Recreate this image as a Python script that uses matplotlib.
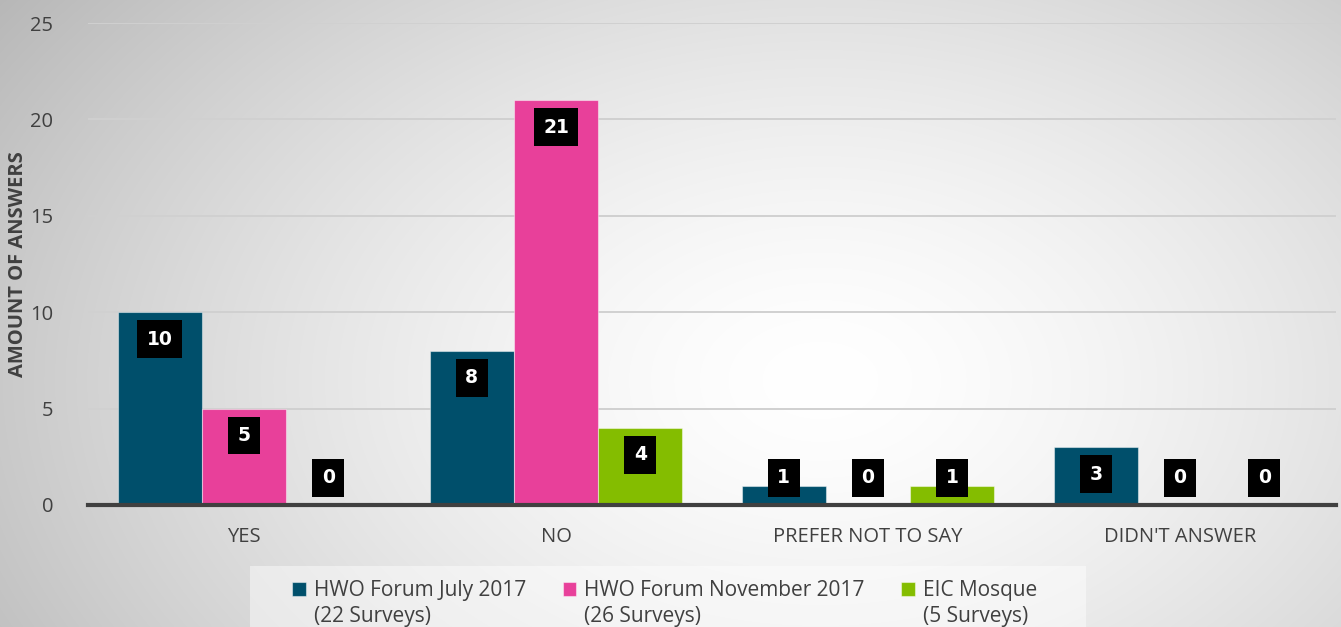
import matplotlib
matplotlib.use('Agg')
import matplotlib.pyplot as plt
from matplotlib.patches import Rectangle
import numpy as np

categories = ['YES', 'NO', 'PREFER NOT TO SAY', "DIDN'T ANSWER"]
july_2017 = [10, 8, 1, 3]
nov_2017 = [5, 21, 0, 0]
eic_mosque = [0, 4, 1, 0]
series_names = ['HWO Forum July 2017', 'HWO Forum November 2017', 'EIC Mosque']
series_notes = ['(22 Surveys)', '(26 Surveys)', '(5 Surveys)']
series_colors = ['#004f6b', '#e8409a', '#84bd00']
y_ticks = [0, 5, 10, 15, 20, 25]

plt.rcParams['font.family'] = ['Open Sans', 'DejaVu Sans']


def background(fig):
    # soft radial grey gradient behind everything
    bg = fig.add_axes([0, 0, 1, 1], zorder=0)
    bg.set_axis_off()
    h, w = 627, 1341
    yy, xx = np.mgrid[0:h, 0:w]
    r = np.hypot((xx - 820) / 900, (yy - 380) / 600)
    shade = np.clip(1.0 - 0.24 * r ** 1.5, 0, 1)
    img = np.dstack([shade, shade, shade])
    bg.imshow(img, aspect='auto', extent=[0, 1, 0, 1], origin='upper')
    bg.set_xlim(0, 1)
    bg.set_ylim(0, 1)


def make_plot():
    fig = plt.figure(figsize=(13.41, 6.27), dpi=100)
    background(fig)

    ax = fig.add_axes([0.0656, 0.1946, 0.9307, 0.7687], zorder=1)
    ax.patch.set_alpha(0)

    x = np.arange(len(categories))
    width = 0.27
    all_series = [july_2017, nov_2017, eic_mosque]
    for i, vals in enumerate(all_series):
        pos = x + (i - 1) * width
        ax.bar(pos, vals, width, color=series_colors[i],
               edgecolor=(1, 1, 1, 0.45), linewidth=0.8, zorder=2,
               label=series_names[i])
        for px, v in zip(pos, vals):
            ly = max(v - 1.4, 1.4)
            ax.text(px, ly, str(v), ha='center', va='center', color='white',
                    fontsize=13.5, fontweight='bold', family='DejaVu Sans',
                    zorder=4,
                    bbox=dict(boxstyle='square,pad=0.5', fc='black', ec='none'))

    ax.set_xlim(-0.5, 3.5)
    ax.set_ylim(0, 25)
    ax.set_yticks(y_ticks)
    ax.set_xticks(x)
    ax.set_xticklabels(categories)
    ax.tick_params(axis='both', length=0, labelsize=14.5, colors='#404040')
    ax.tick_params(axis='y', pad=25)
    ax.tick_params(axis='x', pad=16)
    ax.yaxis.grid(True, color='#d0d0d0', linewidth=1.4, zorder=0)
    ax.set_axisbelow(True)
    for s in ['top', 'right', 'left']:
        ax.spines[s].set_visible(False)
    ax.spines['bottom'].set_color('#404040')
    ax.spines['bottom'].set_linewidth(3)
    ax.spines['bottom'].set_zorder(3)

    fig.text(0.0137, 0.578, 'AMOUNT OF ANSWERS', rotation=90, ha='center',
             va='center', fontsize=14.5, fontweight='bold', color='#404040')

    # legend panel
    fig.patches.append(Rectangle((250 / 1341, 0), (1086 - 250) / 1341, 61 / 627,
                                 transform=fig.transFigure, fc='white',
                                 ec='none', alpha=0.45, zorder=1))
    leg = fig.legend(loc='upper left', bbox_to_anchor=(292 / 1341, 1 - 580 / 627),
                     ncol=3, frameon=False, fontsize=15, labelcolor='#404040',
                     handlelength=0.65, handleheight=0.65, handletextpad=0.4,
                     columnspacing=1.75, borderpad=0, borderaxespad=0)
    leg.set_zorder(5)
    fig.canvas.draw()
    inv = fig.transFigure.inverted()
    for t, note in zip(leg.get_texts(), series_notes):
        bb = t.get_window_extent()
        x0, y0 = inv.transform((bb.x0, bb.y0))
        fig.text(x0, y0 - 0.008, note, ha='left', va='top', fontsize=15,
                 color='#404040', zorder=6)

    fig.savefig('out.png', dpi=100)


if __name__ == '__main__':
    make_plot()
